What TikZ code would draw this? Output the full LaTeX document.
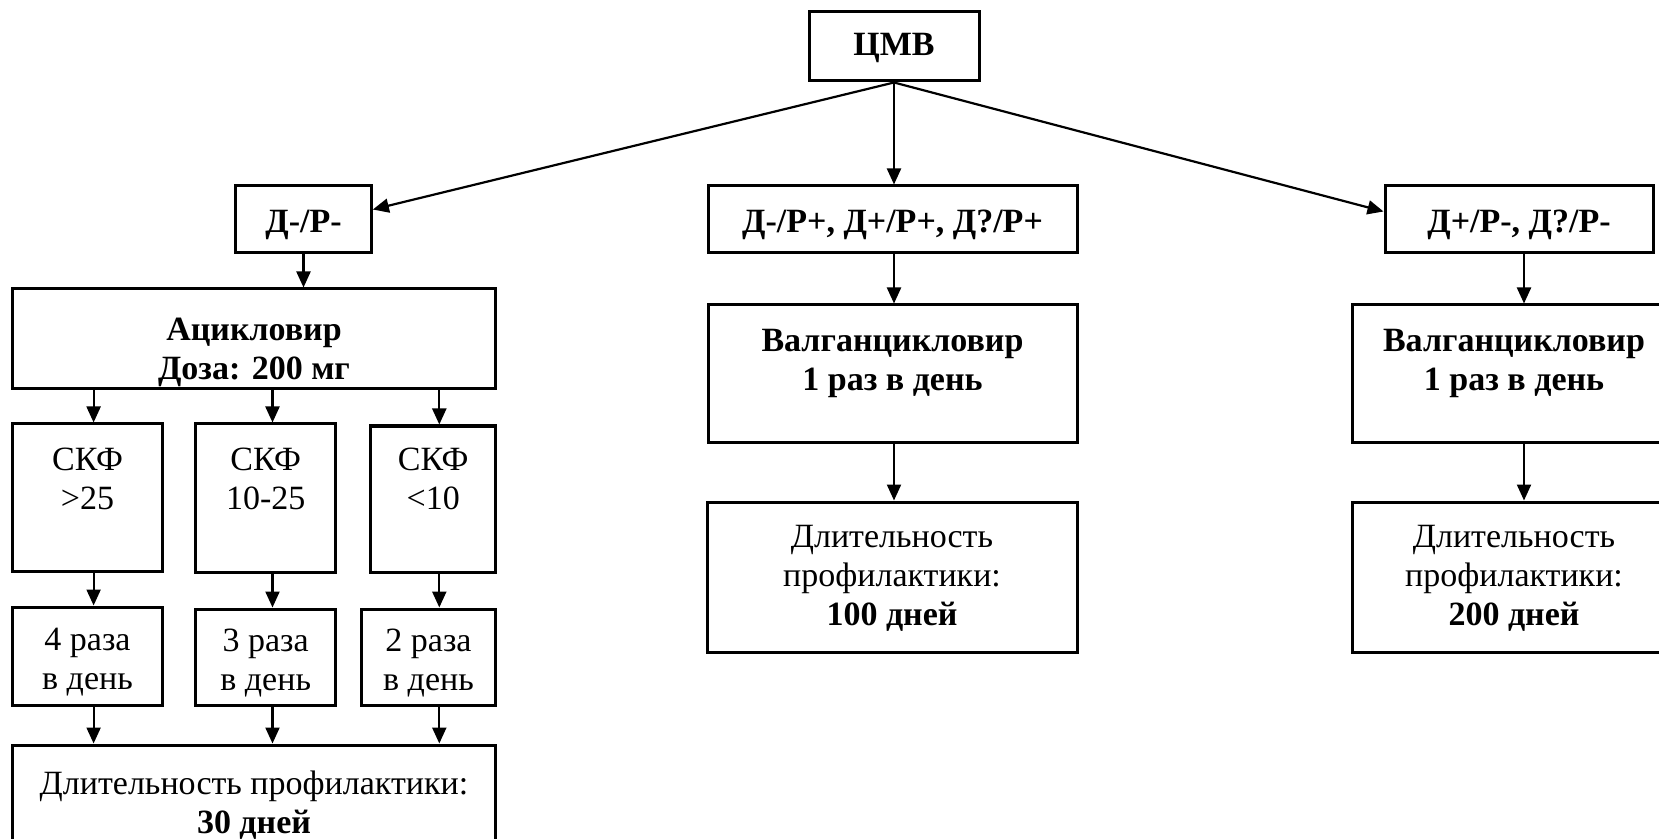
\documentclass[tikz,border=0pt]{standalone}
\usepackage{fontspec}
\setmainfont{Liberation Serif}
\usetikzlibrary{arrows.meta}

\begin{document}
\begin{tikzpicture}[x=0.5pt,y=-0.5pt,
	box/.style={draw,line width=1.5pt,fill=white,inner sep=0pt},
	txt/.style={inner sep=0pt,align=center,font=\fontsize{17}{19.5}\selectfont},
	btxt/.style={txt,font=\fontsize{17}{19.5}\selectfont\bfseries},
	arr/.style={line width=1.1pt,-{Triangle[length=8pt,width=7pt]}}]
	%frame
	\useasboundingbox (0,0) rectangle (1659,839);
	\clip (0,0) rectangle (1659,839);

	%columns for the vertical arrows
	\coordinate (c1) at (93.6,0);
	\coordinate (c2) at (272.5,0);
	\coordinate (c3) at (439.3,0);
	\coordinate (cr) at (1524,0);

	%boxes
	\node[box,minimum width=85pt,minimum height=34.5pt] (cmv) at (894,46.5) {};
	\node[box,minimum width=67.85pt,minimum height=33.5pt] (drm) at (303.5,219.5) {};
	\node[box,minimum width=184.5pt,minimum height=33.5pt] (drp) at (892.5,219.5) {};
	\node[box,minimum width=134pt,minimum height=33.5pt] (dpr) at (1519,219.5) {};
	\node[box,minimum width=241.6pt,minimum height=50pt] (acic) at (254,339) {};
	\node[box,minimum width=75pt,minimum height=73.5pt] (skf1) at (87.5,497.5) {};
	\node[box,minimum width=70pt,minimum height=74pt] (skf2) at (265.7,498) {};
	\node[box,minimum width=62.5pt,minimum height=73pt] (skf3) at (433.2,499) {};
	\node[box,minimum width=75pt,minimum height=49pt] (raz1) at (87.5,656) {};
	\node[box,minimum width=70pt,minimum height=48pt] (raz2) at (265.7,657) {};
	\node[box,minimum width=67.15pt,minimum height=48pt] (raz3) at (428.5,657) {};
	\node[box,minimum width=241.6pt,minimum height=52pt] (dur1) at (254,797) {};
	\node[box,minimum width=184.5pt,minimum height=68.5pt] (valm) at (892.5,373.5) {};
	\node[box,minimum width=185pt,minimum height=75pt] (durm) at (892,577) {};
	\node[box,minimum width=162pt,minimum height=68.5pt] (valr) at (1514,373.5) {};
	\node[box,minimum width=162pt,minimum height=75pt] (durr) at (1514,577) {};

	%texts
	\node[btxt] (cmvt) at (894,48.5) {ЦМВ};
	\node[btxt] (drmt) at (303.5,225) {Д-/Р-};
	\node[btxt] (drpt) at (892.5,225) {Д-/Р+, Д+/Р+, Д?/Р+};
	\node[btxt] (dprt) at (1519,225) {Д+/Р-, Д?/Р-};
	\node[btxt] (acict) at (254,352) {Ацикловир\\Доза: 200 мг};
	\node[txt] (skf1t) at (87.5,478.5) {СКФ\\>25};
	\node[txt] (skf2t) at (265.7,478.5) {СКФ\\10-25};
	\node[txt] (skf3t) at (433.2,478.5) {СКФ\\<10};
	\node[txt] (raz1t) at (87.5,662) {4 раза\\в день};
	\node[txt] (raz2t) at (265.7,663) {3 раза\\в день};
	\node[txt] (raz3t) at (428.5,663) {2 раза\\в день};
	\node[txt] (dur1t) at (254,805) {Длительность профилактики:\\\textbf{30 дней}};
	\node[btxt] (valmt) at (892.5,363) {Валганцикловир\\1 раз в день};
	\node[txt] (durmt) at (892,578) {Длительность\\профилактики:\\\textbf{100 дней}};
	\node[btxt] (valrt) at (1514,363) {Валганцикловир\\1 раз в день};
	\node[txt] (durrt) at (1514,578) {Длительность\\профилактики:\\\textbf{200 дней}};

	%arrows from the top
	\draw[arr] (cmv.south) -- ([yshift=5pt]drm.east);
	\draw[arr] (cmv.south) -- (cmv.south |- drp.north);
	\draw[arr] (cmv.south) -- ([yshift=4pt]dpr.west);

	%arrows left
	\draw[arr] (drm.south) -- (drm.south |- acic.north);
	\draw[arr] (acic.south -| c1) -- (skf1.north -| c1);
	\draw[arr] (acic.south -| c2) -- (skf2.north -| c2);
	\draw[arr] (acic.south -| c3) -- (skf3.north -| c3);
	\draw[arr] (skf1.south -| c1) -- (raz1.north -| c1);
	\draw[arr] (skf2.south -| c2) -- (raz2.north -| c2);
	\draw[arr] (skf3.south -| c3) -- (raz3.north -| c3);
	\draw[arr] (raz1.south -| c1) -- (dur1.north -| c1);
	\draw[arr] (raz2.south -| c2) -- (dur1.north -| c2);
	\draw[arr] (raz3.south -| c3) -- (dur1.north -| c3);

	%arrows middle and right
	\draw[arr] (drp.south -| cmv.south) -- (valm.north -| cmv.south);
	\draw[arr] (valm.south -| cmv.south) -- (durm.north -| cmv.south);
	\draw[arr] (dpr.south -| cr) -- (valr.north -| cr);
	\draw[arr] (valr.south -| cr) -- (durr.north -| cr);
\end{tikzpicture}
\end{document}
